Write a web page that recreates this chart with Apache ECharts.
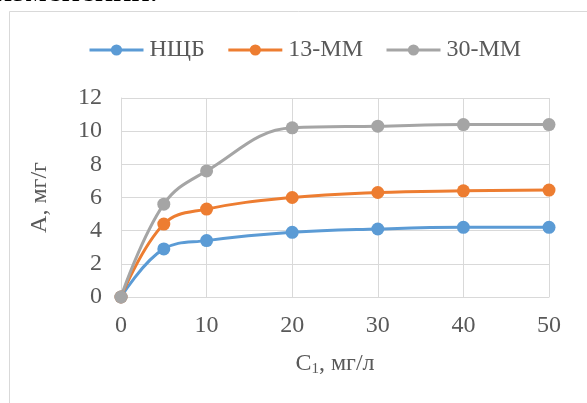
<!DOCTYPE html>
<html>
<head>
<meta charset="utf-8">
<script src="https://cdn.jsdelivr.net/npm/echarts@6/dist/echarts.min.js"></script>
<style>
html,body{margin:0;padding:0;background:#fff;}
#chart{width:587px;height:403px;}
</style>
</head>
<body>
<div id="chart"></div>
<script>
// концентрация C1, мг/л
var xVals = [0, 5, 10, 20, 30, 40, 50];
var seriesNames = ['НЩБ', '13-ММ', '30-ММ'];
var nshb = [0, 2.9, 3.4, 3.9, 4.1, 4.2, 4.2];
var mm13 = [0, 4.4, 5.3, 6.0, 6.3, 6.4, 6.45];
var mm30 = [0, 5.6, 7.6, 10.2, 10.3, 10.4, 10.4];
var colors = ['#5B9BD5', '#ED7D31', '#A5A5A5'];

var FONT = '"Liberation Serif", "DejaVu Serif", serif';
var chart = echarts.init(document.getElementById('chart'));

function pairs(ys){
	var out = [];
	for(var i = 0; i < xVals.length; i++){
		out.push([xVals[i], ys[i]]);
	}
	return out;
}
function makeSeries(name, ys, color){
	return {
		name: name,
		type: 'line',
		data: pairs(ys),
		smooth: 0.4,
		symbol: 'circle',
		symbolSize: 13,
		lineStyle: {color: color, width: 3},
		itemStyle: {color: color},
		z: 3
	};
}

var option = {
	backgroundColor: '#fff',
	animation: false,
	color: colors,
	graphic: [
		{type: 'rect', shape: {x: 9.5, y: 11.5, width: 600, height: 420}, style: {fill: 'none', stroke: '#d9d9d9', lineWidth: 1}, z: -1},
		{type: 'text', left: -6, top: -25, style: {text: 'изменений.', font: '34px ' + FONT, fill: '#000'}}
	],
	legend: {
		left: 83,
		top: 33,
		itemWidth: 54,
		itemHeight: 14,
		itemGap: 22,
		lineStyle: {width: 3},
		textStyle: {fontFamily: FONT, fontSize: 24, color: '#595959', padding: [0, 0, 0, 1]},
		data: seriesNames
	},
	grid: {left: 121, top: 98, right: 38, bottom: 106},
	xAxis: {
		type: 'value',
		min: 0, max: 50, interval: 10,
		name: '{a|C}{s|1}{a|, мг/л}',
		nameLocation: 'middle',
		nameGap: 53,
		nameTextStyle: {
			rich: {
				a: {fontFamily: FONT, fontSize: 24, color: '#595959'},
				s: {fontFamily: FONT, fontSize: 15, color: '#595959', verticalAlign: 'bottom', padding: [12, 0, 0, 0]}
			}
		},
		axisLine: {lineStyle: {color: '#d9d9d9'}},
		axisTick: {show: false},
		axisLabel: {fontFamily: FONT, fontSize: 24, color: '#595959', margin: 17},
		splitLine: {show: true, lineStyle: {color: '#d9d9d9'}}
	},
	yAxis: {
		type: 'value',
		min: 0, max: 12, interval: 2,
		name: 'А, мг/г',
		nameLocation: 'middle',
		nameGap: 69,
		nameTextStyle: {fontFamily: FONT, fontSize: 24, color: '#595959'},
		axisLine: {show: true, lineStyle: {color: '#d9d9d9'}},
		axisTick: {show: false},
		axisLabel: {fontFamily: FONT, fontSize: 24, color: '#595959', margin: 19},
		splitLine: {show: true, lineStyle: {color: '#d9d9d9'}}
	},
	series: [
		makeSeries(seriesNames[0], nshb, colors[0]),
		makeSeries(seriesNames[1], mm13, colors[1]),
		makeSeries(seriesNames[2], mm30, colors[2])
	]
};
chart.setOption(option);
</script>
</body>
</html>
